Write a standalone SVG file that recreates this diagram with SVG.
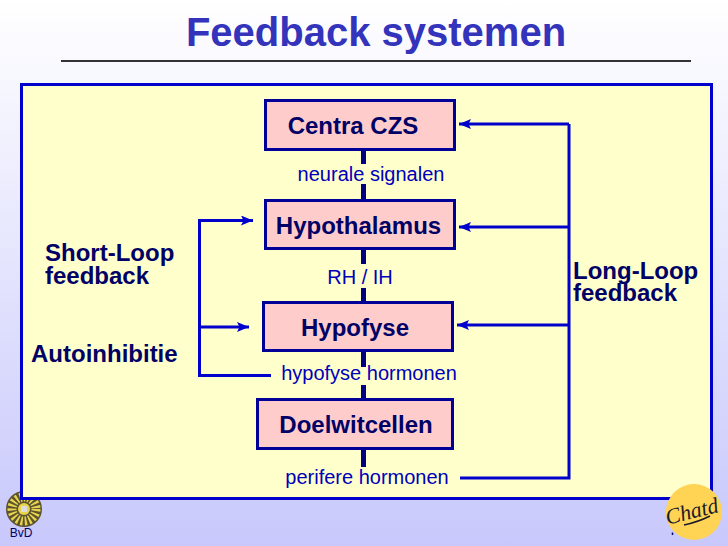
<svg xmlns="http://www.w3.org/2000/svg" width="728" height="546" viewBox="0 0 728 546">
<style>
.box{fill:#ffcccc;stroke:#000099;stroke-width:3}
.nt{font:bold 24px "Liberation Sans",Arial,sans-serif;fill:#000066;text-anchor:middle}
.lb{font:20px "Liberation Sans",Arial,sans-serif;fill:#0000bb;text-anchor:middle}
.sd{font:bold 24px "Liberation Sans",Arial,sans-serif;fill:#000066}
.fb{fill:none;stroke:#0000cc;stroke-width:3}
.tr{fill:none;stroke:#000080;stroke-width:5}
</style>
<defs>
<linearGradient id="bg" x1="0" y1="0" x2="0" y2="1"><stop offset="0" stop-color="#ffffff"/><stop offset="1" stop-color="#c8c8fc"/></linearGradient>
<marker id="ah" markerUnits="userSpaceOnUse" markerWidth="14" markerHeight="12" refX="12" refY="5" orient="auto"><path d="M0 0L12 5L0 10L2.500 5Z" fill="#0000cc"/></marker>
</defs>
<rect width="728" height="546" fill="url(#bg)"/>
<text x="376" y="46" text-anchor="middle" style="font:bold 40px 'Liberation Sans',Arial,sans-serif;fill:#3333bb">Feedback systemen</text>
<line x1="61" y1="61" x2="691" y2="61" stroke="#333333" stroke-width="2"/>
<g id="stamp-left">
<circle cx="24" cy="509" r="18" fill="#5a5230"/>
<circle cx="24" cy="509" r="12" fill="none" stroke="#e8d44a" stroke-width="9" stroke-dasharray="2 2"/>
<circle cx="24" cy="509" r="6" fill="#e8d44a"/>
<rect x="21" y="506" width="6" height="6" fill="#dddddd"/>
</g>
<rect id="panel" x="21.500" y="84.500" width="690" height="414" fill="#ffffcc" stroke="#0000cc" stroke-width="3"/>
<text x="21" y="537" text-anchor="middle" style="font:12px 'Liberation Sans',Arial,sans-serif;fill:#000066">BvD</text>
<g id="connectors">
<path class="tr" d="M363.500 151V164M363.500 184V199M363.500 250V264M363.500 288V301M363.500 352V367M363.500 385V398M363.500 450V467"/>
<path class="fb" d="M569 124H459" marker-end="url(#ah)"/>
<path class="fb" d="M569 227H459" marker-end="url(#ah)"/>
<path class="fb" d="M569 325H457" marker-end="url(#ah)"/>
<path class="fb" d="M460 478H569V124"/>
<path class="fb" d="M271 375.500H199.500V220.500H253" marker-end="url(#ah)"/>
<path class="fb" d="M199.500 327H249" marker-end="url(#ah)"/>
</g>
<g id="n-centra"><rect class="box" x="265.500" y="100.500" width="189" height="49"/><text class="nt" x="353" y="134">Centra CZS</text></g>
<g id="n-hypothalamus"><rect class="box" x="265.500" y="200.500" width="189" height="48"/><text class="nt" x="358.500" y="234">Hypothalamus</text></g>
<g id="n-hypofyse"><rect class="box" x="263.500" y="302.500" width="189" height="48"/><text class="nt" x="355" y="336">Hypofyse</text></g>
<g id="n-doelwit"><rect class="box" x="257.500" y="399.500" width="195" height="49"/><text class="nt" x="356" y="433">Doelwitcellen</text></g>
<g id="labels">
<text class="lb" x="371" y="181">neurale signalen</text>
<text class="lb" x="360" y="284">RH / IH</text>
<text class="lb" x="369" y="380">hypofyse hormonen</text>
<text class="lb" x="367" y="484">perifere hormonen</text>
<text class="sd" x="45" y="261">Short-Loop</text>
<text class="sd" x="45" y="284">feedback</text>
<text class="sd" x="31" y="362">Autoinhibitie</text>
<text class="sd" x="573" y="279">Long-Loop</text>
<text class="sd" x="573" y="301">feedback</text>
</g>
<g id="stamp-right">
<path d="M672.500 532.500V535" stroke="#000066" stroke-width="1.500"/>
<circle cx="694" cy="512" r="28" fill="#ffd454"/>
<text x="692" y="518" text-anchor="middle" transform="rotate(-14 694 512)" style="font:italic 22px 'Liberation Serif',serif;fill:#1a1a2a">Chatd</text>
<path d="M684 525Q698 522 710 516" fill="none" stroke="#1a1a2a" stroke-width="1.500"/>
</g>
</svg>
